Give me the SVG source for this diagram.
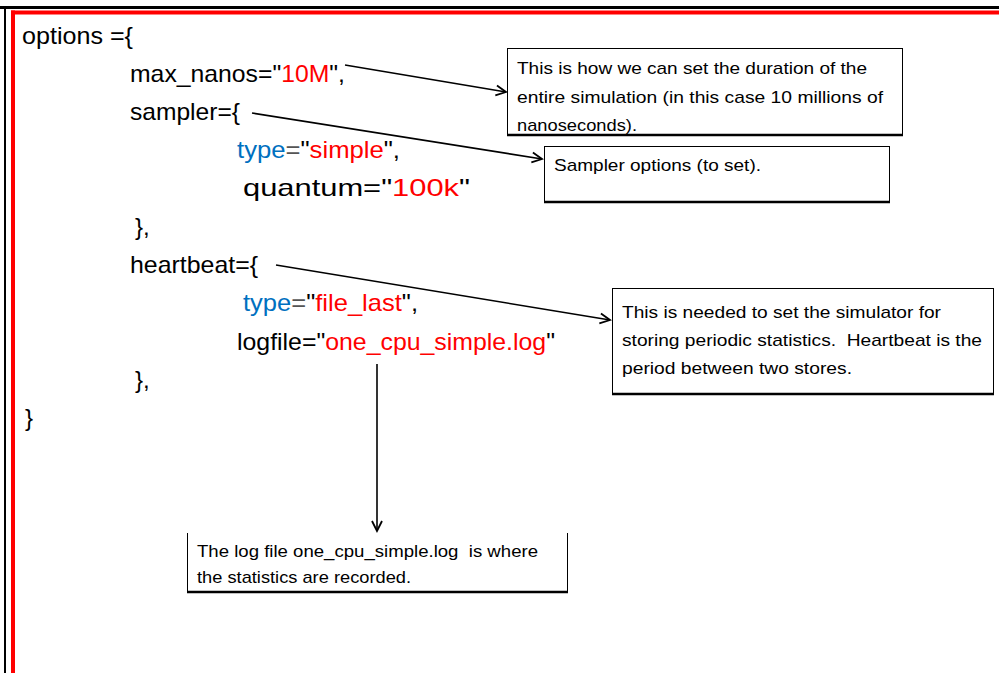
<svg xmlns="http://www.w3.org/2000/svg" width="999" height="673" viewBox="0 0 999 673">
<defs>
<style>
.code{font-family:"Liberation Sans",Arial,sans-serif;font-size:24px;fill:#000}
.note{font-family:"Liberation Sans",Arial,sans-serif;font-size:17px;fill:#000;white-space:pre}
.r{fill:#ff0000}
.b{fill:#0070c0}
.g{fill:#555}
.box{fill:#fff;stroke:#000;stroke-width:1}
.sh{stroke:#000;stroke-width:2.5;fill:none}
.conn{stroke:#000;stroke-width:1.6;fill:none}
</style>
<marker id="arr" markerUnits="userSpaceOnUse" markerWidth="14" markerHeight="14" refX="11" refY="6" orient="auto" viewBox="0 0 14 12">
<path d="M1,1 L11,6 L1,11" fill="none" stroke="#000" stroke-width="1.8"/>
</marker>
</defs>
<rect width="999" height="673" fill="#fff"/>
<g id="frame">
<line x1="0" y1="7.5" x2="999" y2="7.5" stroke="#000" stroke-width="3"/>
<line x1="5" y1="6" x2="5" y2="673" stroke="#000" stroke-width="2"/>
<line x1="11" y1="12.5" x2="999" y2="12.5" stroke="#ff0000" stroke-width="4"/>
<line x1="13" y1="10.5" x2="13" y2="673" stroke="#ff0000" stroke-width="4"/>
</g>
<g id="code">
<text class="code" x="22" y="44" textLength="111" lengthAdjust="spacingAndGlyphs">options ={</text>
<text class="code" x="130" y="82" textLength="215" lengthAdjust="spacingAndGlyphs">max_nanos="<tspan class="r">10M</tspan>",</text>
<text class="code" x="130" y="120" textLength="110" lengthAdjust="spacingAndGlyphs">sampler={</text>
<text class="code" x="237" y="158" textLength="163" lengthAdjust="spacingAndGlyphs"><tspan class="b">type</tspan><tspan class="g">=</tspan>"<tspan class="r">simple</tspan>",</text>
<text class="code" x="243" y="196" textLength="227" lengthAdjust="spacingAndGlyphs">quantum="<tspan class="r">100k</tspan>"</text>
<text class="code" x="135" y="235">},</text>
<text class="code" x="130" y="273" textLength="128" lengthAdjust="spacingAndGlyphs">heartbeat={</text>
<text class="code" x="243" y="311" textLength="175" lengthAdjust="spacingAndGlyphs"><tspan class="b">type</tspan><tspan class="g">=</tspan>"<tspan class="r">file_last</tspan>",</text>
<text class="code" x="237" y="350" textLength="318" lengthAdjust="spacingAndGlyphs">logfile="<tspan class="r">one_cpu_simple.log</tspan>"</text>
<text class="code" x="135" y="388">},</text>
<text class="code" x="25" y="426">}</text>
</g>
<g id="note-duration">
<rect class="box" x="507.5" y="48.5" width="395" height="87"/>
<line class="sh" x1="507" y1="135" x2="903" y2="135"/>
<text class="note" x="517" y="74" textLength="350" lengthAdjust="spacingAndGlyphs">This is how we can set the duration of the</text>
<text class="note" x="517" y="103" textLength="366" lengthAdjust="spacingAndGlyphs">entire simulation (in this case 10 millions of</text>
<text class="note" x="517" y="131" textLength="120" lengthAdjust="spacingAndGlyphs">nanoseconds).</text>
</g>
<g id="note-sampler">
<rect class="box" x="544.5" y="146.5" width="345" height="56"/>
<line class="sh" x1="544" y1="202" x2="890" y2="202"/>
<text class="note" x="554" y="171" textLength="207" lengthAdjust="spacingAndGlyphs">Sampler options (to set).</text>
</g>
<g id="note-heartbeat">
<rect class="box" x="612.5" y="288.5" width="381" height="106"/>
<line class="sh" x1="612" y1="394" x2="994" y2="394"/>
<text class="note" x="622" y="318" textLength="319" lengthAdjust="spacingAndGlyphs">This is needed to set the simulator for</text>
<text class="note" x="622" y="346" textLength="360" lengthAdjust="spacingAndGlyphs">storing periodic statistics.  Heartbeat is the</text>
<text class="note" x="622" y="374" textLength="230" lengthAdjust="spacingAndGlyphs">period between two stores.</text>
</g>
<g id="note-logfile">
<path d="M187.5,533 V592 H567.5 V533" fill="#fff" stroke="#000" stroke-width="1"/>
<line class="sh" x1="187" y1="592" x2="568" y2="592"/>
<text class="note" x="197" y="557" textLength="341" lengthAdjust="spacingAndGlyphs">The log file one_cpu_simple.log  is where</text>
<text class="note" x="197" y="583" textLength="214" lengthAdjust="spacingAndGlyphs">the statistics are recorded.</text>
</g>
<g id="connectors">
<line class="conn" x1="345" y1="65" x2="506" y2="92" marker-end="url(#arr)"/>
<line class="conn" x1="252" y1="113" x2="542" y2="159" marker-end="url(#arr)"/>
<line class="conn" x1="276" y1="265" x2="610" y2="320" marker-end="url(#arr)"/>
<line class="conn" x1="377" y1="364" x2="377" y2="531" marker-end="url(#arr)"/>
</g>
</svg>
